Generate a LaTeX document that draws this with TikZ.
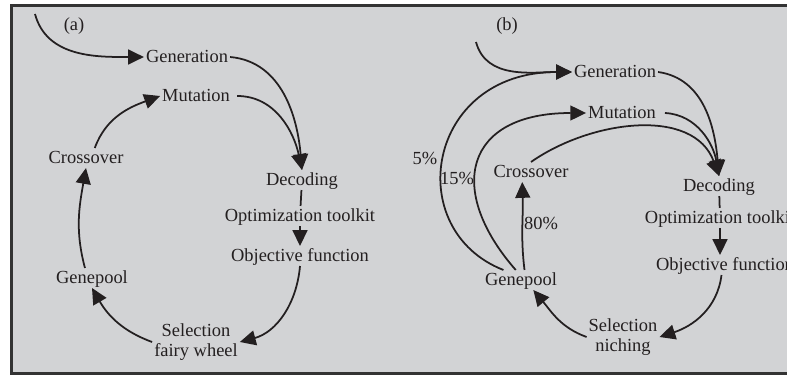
\documentclass[tikz,border=0pt]{standalone}
\usepackage{fontspec}
\setmainfont{Liberation Serif}
\usetikzlibrary{arrows.meta,positioning,calc}
\definecolor{panelgray}{RGB}{210,211,213}
\definecolor{ink}{RGB}{35,31,32}

\begin{document}
\begin{tikzpicture}[font=\fontsize{10.5}{11.5}\selectfont,
  txt/.style={text=ink, inner sep=1pt, text height=7.5pt, text depth=1.5pt},
  twoline/.style={text=ink, inner sep=1pt, align=center},
  pct/.style={text=ink, inner sep=1pt},
  link/.style={draw=ink, line width=1pt},
  arr/.style={link, -{Triangle[length=9pt,width=8.5pt]}}]
\useasboundingbox (0,0) rectangle (15.74,7.5);
\clip (0,0) rectangle (15.74,7.5);
\draw[line width=1.2pt, draw=black!80, fill=panelgray] (0.23,0.03) rectangle (16,7.39);

% panel (a)
\node[txt] (lbla) at (1.48,7.0) {(a)};
\coordinate (ina) at (0.70,7.22);
\node[txt] (gena) at (3.74,6.36) {Generation};
\node[txt] (muta) at (3.92,5.58) {Mutation};
\node[txt] (crossa) at (1.72,4.34) {Crossover};
\node[txt] (deca) at (6.04,3.90) {Decoding};
\node[txt] (opta) at (6.00,3.18) {Optimization toolkit};
\node[txt] (obja) at (6.00,2.38) {Objective function};
\node[txt] (genea) at (1.84,1.94) {Genepool};
\node[twoline] (sela) at (3.92,0.66) {Selection\\fairy wheel};

\draw[arr] (ina) to[out=-75,in=180] (gena.west);
\draw[arr] (gena.east) to[out=-5,in=95] (deca.north);
\draw[arr] ([xshift=3pt]muta.east) to[out=0,in=102] (deca.north);
\draw[link] (deca) -- (opta);
\draw[arr] (opta) -- (obja);
\draw[arr] (obja.south) to[out=-95,in=15] (sela.east);
\draw[arr] (sela.west) to[out=160,in=-60] (genea.south);
\draw[arr] ([xshift=-4pt]genea.north) to[out=105,in=-100] (crossa.south);
\draw[arr] ([xshift=5pt]crossa.north) to[out=70,in=200] (muta.west);

% panel (b)
\node[txt] (lblb) at (10.14,7.0) {(b)};
\coordinate (inb) at (9.52,6.66);
\node[txt] (genb) at (12.30,6.06) {Generation};
\node[txt] (mutb) at (12.44,5.24) {Mutation};
\node[txt] (crossb) at (10.62,4.06) {Crossover};
\node[txt] (decb) at (14.38,3.78) {Decoding};
\node[txt] (optb) at (14.40,3.14) {Optimization toolkit};
\node[txt] (objb) at (14.50,2.20) {Objective function};
\node[txt] (geneb) at (10.42,1.90) {Genepool};
\node[twoline] (selb) at (12.46,0.76) {Selection\\niching};
\node[pct] (p5) at (8.50,4.34) {5\%};
\node[pct] (p15) at (9.14,3.94) {15\%};
\node[pct] (p80) at (10.82,3.04) {80\%};

\draw[arr] (inb) to[out=-75,in=180] (genb.west);
\draw[arr] ([xshift=-10pt]geneb.north) .. controls +(-2.04,0.8) and +(-2.92,0) .. (genb.west);
\draw[arr] ([xshift=-3pt]geneb.north) .. controls +(-1.4,1.6) and +(-2.44,0) .. (mutb.west);
\draw[arr] ([xshift=2pt]geneb.north) to[out=97,in=-88] ([xshift=-5pt]crossb.south);
\draw[arr] (genb.east) to[out=-8,in=95] (decb.north);
\draw[arr] ([xshift=4pt]mutb.east) to[out=-3,in=100] (decb.north);
\draw[arr] (crossb.north) to[out=35,in=110] (decb.north);
\draw[link] (decb) -- (optb);
\draw[arr] (optb.south) -- (optb.south |- objb.north);
\draw[arr] ([xshift=-2pt]objb.south) to[out=-97,in=18] (selb.east);
\draw[arr] (selb.west) to[out=160,in=-50] ([xshift=7pt]geneb.south);
\end{tikzpicture}
\end{document}
